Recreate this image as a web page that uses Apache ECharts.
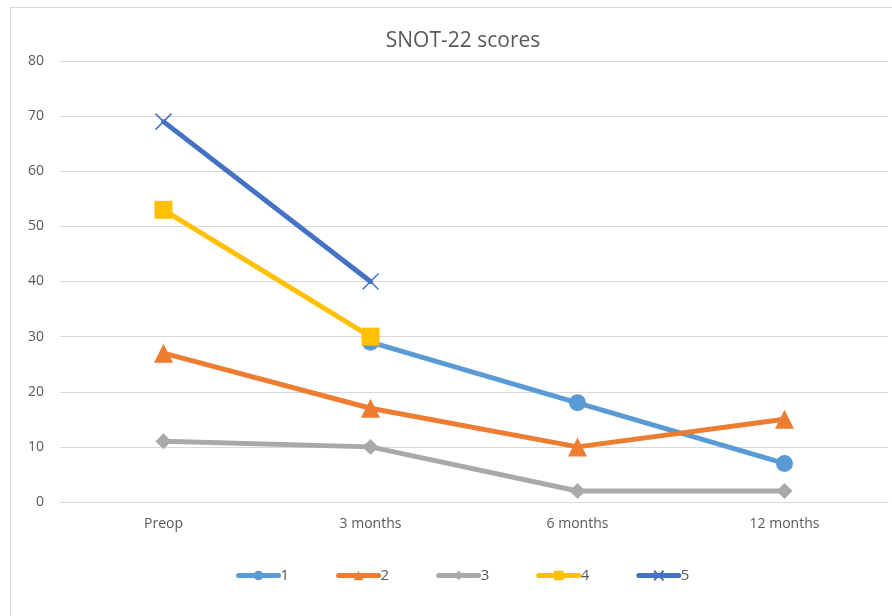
<!DOCTYPE html>
<html>
<head>
<meta charset="utf-8">
<script src="https://cdn.jsdelivr.net/npm/echarts@6/dist/echarts.min.js"></script>
<style>
  body { margin: 0; background: #fff; }
  #frame {
    position: absolute; left: 10px; top: 7px;
    width: 900px; height: 620px;
    border: 1px solid #d9d9d9;
  }
  #snot-chart { position: absolute; left: 0; top: 0; width: 892px; height: 616px; }
</style>
</head>
<body>
<div id="frame"></div>
<div id="snot-chart"></div>
<script>
const categories = ["Preop", "3 months", "6 months", "12 months"];
const seriesNames = ["1", "2", "3", "4", "5"];
const s1 = [null, 29, 18, 7];
const s2 = [27, 17, 10, 15];
const s3 = [11, 10, 2, 2];
const s4 = [53, 30, null, null];
const s5 = [69, 40, null, null];
const yTicks = { min: 0, max: 80, interval: 10 };

const colors = ["#5b9bd5", "#ed7d31", "#a9a9ab", "#ffc000", "#4472c4"];
const crossPath = "path://M0,0L10,10M10,0L0,10";

function makeLine(name, data, color, symbol, size, extra) {
  return Object.assign({
    name: name,
    type: "line",
    data: data,
    symbol: symbol,
    symbolSize: size,
    showSymbol: true,
    connectNulls: false,
    lineStyle: { color: color, width: 5, cap: "round" },
    itemStyle: { color: color },
    emphasis: { disabled: true }
  }, extra || {});
}

const chart = echarts.init(document.getElementById("snot-chart"));
chart.setOption({
  animation: false,
  textStyle: { fontFamily: "Open Sans, Noto Sans, sans-serif" },
  title: {
    text: "SNOT-22 scores",
    left: 458,
    textAlign: "center",
    top: 26,
    textStyle: { color: "#595959", fontSize: 21, fontWeight: "normal" }
  },
  grid: { left: 60, right: 4, top: 61, bottom: 114 },
  legend: {
    bottom: 28,
    left: 231,
    itemWidth: 40,
    itemHeight: 12,
    itemGap: 47,
    data: seriesNames,
    lineStyle: { width: 5, cap: "round" },
    textStyle: { color: "#595959", fontSize: 15, padding: [0, 0, 0, -3] }
  },
  xAxis: {
    type: "category",
    data: categories,
    boundaryGap: true,
    axisTick: { show: false },
    axisLine: { lineStyle: { color: "#d9d9d9", width: 1 } },
    axisLabel: { color: "#595959", fontSize: 14, margin: 15 }
  },
  yAxis: {
    type: "value",
    min: yTicks.min,
    max: yTicks.max,
    interval: yTicks.interval,
    axisLine: { show: false },
    axisTick: { show: false },
    splitLine: { lineStyle: { color: "#d9d9d9", width: 1 } },
    axisLabel: { color: "#595959", fontSize: 14, margin: 16 }
  },
  series: [
    makeLine(seriesNames[0], s1, colors[0], "circle", 17),
    makeLine(seriesNames[1], s2, colors[1], "triangle", 19),
    makeLine(seriesNames[2], s3, colors[2], "diamond", 16),
    makeLine(seriesNames[3], s4, colors[3], "rect", 18),
    makeLine(seriesNames[4], s5, colors[4], crossPath, 16, {
      itemStyle: { color: "none", borderColor: colors[4], borderWidth: 1.5 }
    })
  ]
});
</script>
</body>
</html>
